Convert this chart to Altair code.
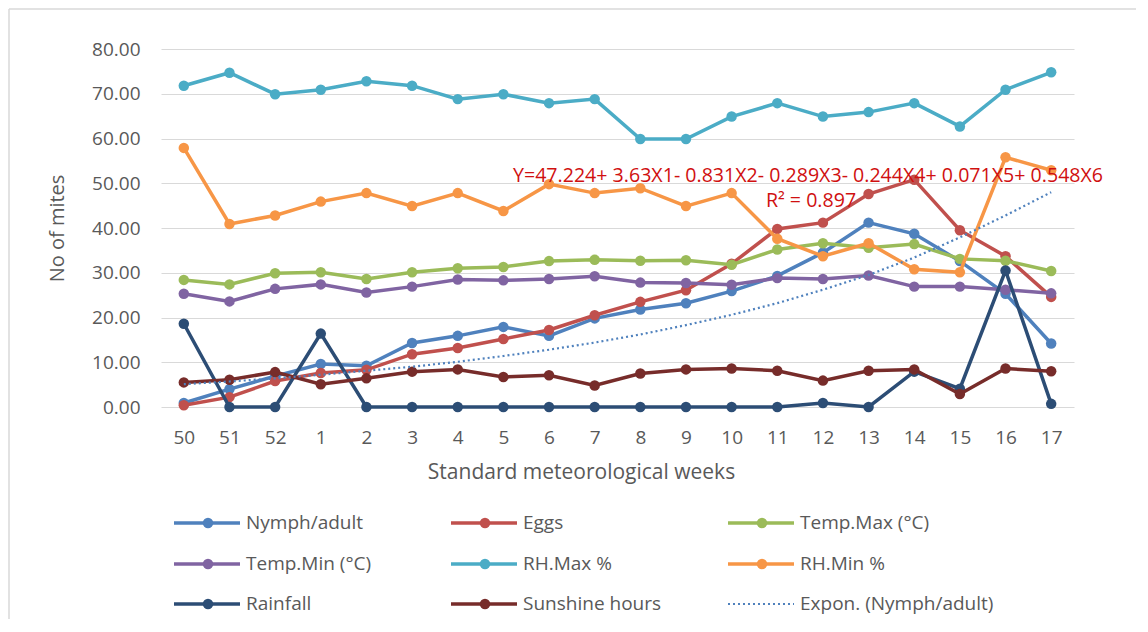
import altair as alt
import pandas as pd

weeks = ["50", "51", "52", "1", "2", "3", "4", "5", "6", "7", "8", "9", "10",
         "11", "12", "13", "14", "15", "16", "17"]

nymph = [0.9, 4.0, 6.9, 9.6, 9.2, 14.3, 15.9, 17.9, 15.9, 19.8, 21.8, 23.2, 25.9,
         29.3, 34.5, 41.2, 38.7, 32.6, 25.3, 14.2]
eggs = [0.4, 2.2, 5.8, 7.6, 8.3, 11.8, 13.2, 15.2, 17.2, 20.5, 23.5, 26.1, 32.0,
        39.8, 41.2, 47.6, 50.8, 39.5, 33.7, 24.6]
tmax = [28.4, 27.4, 29.9, 30.1, 28.6, 30.1, 31.0, 31.3, 32.6, 32.9, 32.7, 32.8, 31.8,
        35.2, 36.6, 35.6, 36.4, 33.1, 32.7, 30.4]
tmin = [25.3, 23.6, 26.4, 27.4, 25.6, 26.9, 28.5, 28.3, 28.6, 29.2, 27.8, 27.7, 27.3,
        28.8, 28.6, 29.4, 26.9, 26.9, 26.2, 25.4]
rhmax = [71.8, 74.7, 69.9, 70.9, 72.8, 71.8, 68.8, 69.9, 67.9, 68.8, 59.9, 59.9, 64.9,
         67.9, 64.9, 65.9, 67.9, 62.7, 70.9, 74.8]
rhmin = [57.9, 40.9, 42.8, 45.9, 47.8, 44.9, 47.8, 43.8, 49.8, 47.8, 48.9, 44.9, 47.8,
         37.6, 33.7, 36.6, 30.8, 30.1, 55.8, 52.9]
rain = [18.6, 0.0, 0.0, 16.4, 0.0, 0.0, 0.0, 0.0, 0.0, 0.0, 0.0, 0.0, 0.0,
        0.0, 0.9, 0.0, 7.9, 4.1, 30.5, 0.7]
sun = [5.5, 6.1, 7.8, 5.1, 6.4, 7.9, 8.4, 6.7, 7.1, 4.8, 7.5, 8.4, 8.6,
       8.1, 5.9, 8.1, 8.4, 2.9, 8.6, 8.0]
trend = [5.1, 5.7, 6.4, 7.2, 8.1, 9.0, 10.1, 11.4, 12.8, 14.4, 16.2, 18.3, 20.6,
         23.2, 26.2, 29.5, 33.4, 37.9, 42.8, 48.0]

series_names = ["Nymph/adult", "Eggs", "Temp.Max (°C)", "Temp.Min (°C)", "RH.Max %",
                "RH.Min  %", "Rainfall", "Sunshine hours"]
series_values = [nymph, eggs, tmax, tmin, rhmax, rhmin, rain, sun]
series_colors = ["#4F81BD", "#C0504D", "#9BBB59", "#8064A2", "#4BACC6", "#F79646",
                 "#2C4D75", "#772C2A"]
trend_name = "Expon. (Nymph/adult)"
trend_color = "#4F81BD"

equation = "Y=47.224+ 3.63X1- 0.831X2- 0.289X3- 0.244X4+ 0.071X5+ 0.548X6"
r2_text = "R² = 0.897"
y_ticks = [0, 10, 20, 30, 40, 50, 60, 70, 80]

FONT = "Open Sans"
TXT = "#595959"
W, H = 913, 358

x_enc = alt.X("week:N", sort=weeks, scale=alt.Scale(type="point", padding=0.5),
              title="Standard meteorological weeks",
              axis=alt.Axis(labelAngle=0, labelPadding=21, titlePadding=14,
                            titleX=420, titleAnchor="middle", titleFontSize=21,
                            ticks=False, domain=False, grid=False))
y_enc = alt.Y("value:Q", scale=alt.Scale(domain=[0, 80], nice=False, zero=True),
              title="No of mites",
              axis=alt.Axis(values=y_ticks, format=".2f", labelPadding=21,
                            titlePadding=24, ticks=False, domain=False,
                            grid=True, gridColor="#D9D9D9", gridWidth=1))

layers = []
for name, vals, col in zip(series_names, series_values, series_colors):
    df = pd.DataFrame({"week": weeks, "value": vals, "series": name})
    base = alt.Chart(df).encode(x=x_enc, y=y_enc)
    layers.append(base.mark_line(color=col, strokeWidth=3.5))
    layers.append(base.mark_point(color=col, filled=True, opacity=1, size=110))

tdf = pd.DataFrame({"week": weeks, "value": trend, "series": trend_name})
layers.append(alt.Chart(tdf).mark_line(color=trend_color, strokeWidth=2.2,
                                       strokeDash=[2, 3]).encode(x=x_enc, y=y_enc))

# regression annotation
ann = pd.DataFrame({"t": [equation]})
layers.append(alt.Chart(ann).mark_text(align="left", baseline="middle", font=FONT,
                                       fontSize=19.6, color="#D01010", text=equation)
              .encode(x=alt.value(352), y=alt.value(127)))
layers.append(alt.Chart(ann).mark_text(align="center", baseline="middle", font=FONT,
                                       fontSize=19.6, color="#D01010", text=r2_text)
              .encode(x=alt.value(650), y=alt.value(152)))

# custom legend (3 columns)
legend_names = series_names + [trend_name]
legend_colors = series_colors + [trend_color]
col_x = [13, 290, 567]
row_y = [474, 515, 555]
for i, (name, col) in enumerate(zip(legend_names, legend_colors)):
    lx = col_x[i % 3]
    ly = row_y[i // 3]
    ldf = pd.DataFrame({"label": [name]})
    if name == trend_name:
        layers.append(alt.Chart(ldf).mark_rule(color=col, strokeWidth=2.2, strokeDash=[2, 3])
                      .encode(x=alt.value(lx), x2=alt.value(lx + 66), y=alt.value(ly)))
    else:
        layers.append(alt.Chart(ldf).mark_rule(color=col, strokeWidth=3.5)
                      .encode(x=alt.value(lx), x2=alt.value(lx + 66), y=alt.value(ly)))
        layers.append(alt.Chart(ldf).mark_point(color=col, filled=True, opacity=1, size=110)
                      .encode(x=alt.value(lx + 34), y=alt.value(ly)))
    layers.append(alt.Chart(ldf).mark_text(align="left", baseline="middle", font=FONT,
                                           fontSize=19, color=TXT, text=name)
                  .encode(x=alt.value(lx + 72), y=alt.value(ly)))

# outer chart border (top and left edges)
bdf = pd.DataFrame({"b": [0]})
layers.append(alt.Chart(bdf).mark_rule(color="#D9D9D9", strokeWidth=1.5)
              .encode(x=alt.value(-152), x2=alt.value(975), y=alt.value(-40)))
layers.append(alt.Chart(bdf).mark_rule(color="#D9D9D9", strokeWidth=1.5)
              .encode(x=alt.value(-152), y=alt.value(-40), y2=alt.value(570)))

chart = alt.layer(*layers).properties(
    width=W, height=H, padding=0
).configure_view(strokeWidth=0).configure_axis(
    labelFont=FONT, titleFont=FONT, labelColor=TXT, titleColor=TXT,
    labelFontSize=19, titleFontSize=20, titleFontWeight="normal"
)

chart.save("out.html", embed_options={"renderer": "svg", "actions": False})
